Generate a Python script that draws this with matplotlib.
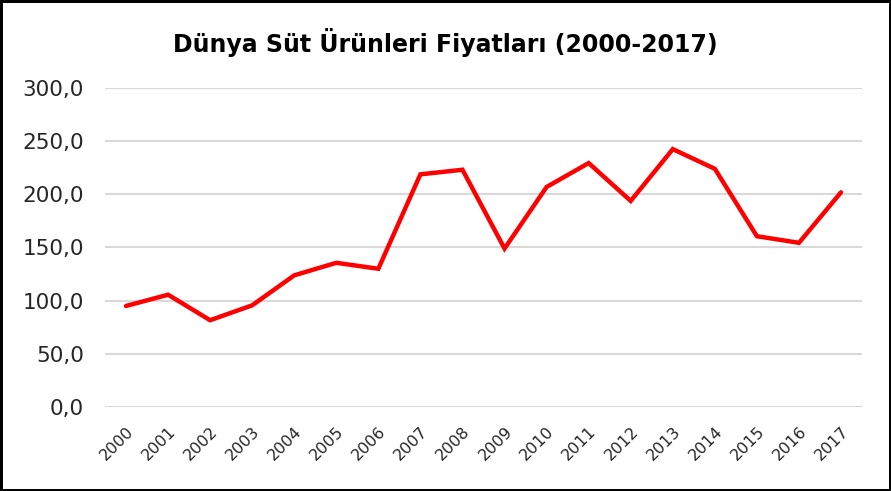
import matplotlib
matplotlib.use("Agg")
import matplotlib.pyplot as plt
from matplotlib.ticker import FuncFormatter

# --------------------------------
# DATA
# --------------------------------
years = [str(y) for y in range(2000, 2018)]
prices = [95.0, 105.6, 81.6, 95.6, 123.8, 135.6, 130.0, 218.8, 223.1,
          149.0, 206.9, 229.4, 193.8, 242.5, 224.0, 160.6, 154.4, 201.9]
y_ticks = [0, 50, 100, 150, 200, 250, 300]

title = "Dünya Süt Ürünleri Fiyatları (2000-2017)"

# --------------------------------
# PLOT
# --------------------------------
plt.rcParams['font.family'] = ['DejaVu Sans']

fig = plt.figure(figsize=(8.91, 4.91), dpi=100, facecolor='white',
                 edgecolor='black', linewidth=2.5)
ax = fig.add_axes([0.1178, 0.1711, 0.8497, 0.6497])

x = range(len(years))
ax.plot(x, prices, color='#ff0000', linewidth=3.2, solid_capstyle='round',
        solid_joinstyle='miter', zorder=3)

ax.set_xlim(-0.5, len(years) - 0.5)
ax.set_ylim(0, 300)
ax.set_yticks(y_ticks)
ax.yaxis.set_major_formatter(FuncFormatter(lambda v, p: f"{v:.1f}".replace('.', ',')))
ax.set_xticks(list(x))
ax.set_xticklabels(years, rotation=45, ha='right', rotation_mode='anchor',
                   fontsize=11.5, color='#262626')
for lab in ax.get_yticklabels():
    lab.set_fontsize(15.5)
    lab.set_color('#262626')

ax.grid(axis='y', color='#d9d9d9', linewidth=1.5)
ax.set_axisbelow(True)
for s in ax.spines.values():
    s.set_visible(False)
ax.tick_params(axis='both', length=0)
ax.tick_params(axis='y', pad=15)
ax.tick_params(axis='x', pad=12)

fig.text(0.5, 0.914, title, ha='center', va='center', fontsize=17,
         fontweight='bold', color='black')

fig.savefig("out.png", dpi=100, edgecolor=fig.get_edgecolor())
